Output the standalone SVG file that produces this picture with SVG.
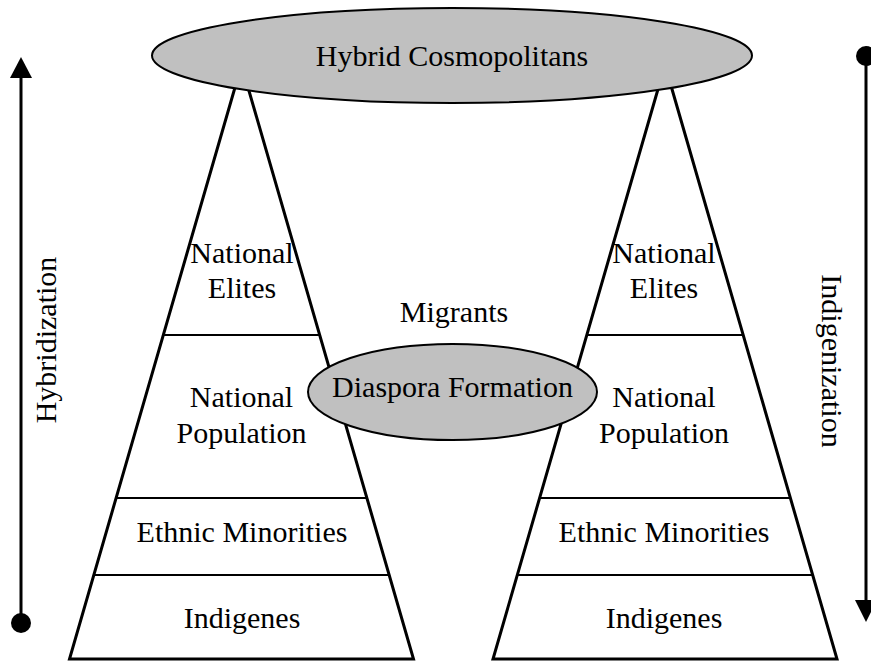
<svg xmlns="http://www.w3.org/2000/svg" width="871" height="662" viewBox="0 0 871 662">
<defs>
<style>
.t{font-family:"Liberation Serif","Times New Roman",serif;font-size:30px;fill:#000;text-anchor:middle}
.tri{fill:#fff;stroke:#000;stroke-width:3;stroke-linejoin:miter}
.div{stroke:#000;stroke-width:2;fill:none}
.ell{fill:#c0c0c0;stroke:#000;stroke-width:2}
.ax{stroke:#000;stroke-width:3;fill:none}
</style>
</defs>
<rect width="871" height="662" fill="#fff"/>
<g id="left-pyramid">
<polygon class="tri" points="241.5,65 69.5,659 413.5,659"/>
<line class="div" x1="163.5" y1="335" x2="319.5" y2="335"/>
<line class="div" x1="116.5" y1="498" x2="366.5" y2="498"/>
<line class="div" x1="94" y1="575" x2="389" y2="575"/>
</g>
<g id="right-pyramid">
<polygon class="tri" points="665,65 493,659 837,659"/>
<line class="div" x1="587" y1="335" x2="743" y2="335"/>
<line class="div" x1="540" y1="498" x2="790" y2="498"/>
<line class="div" x1="517.5" y1="575" x2="812.5" y2="575"/>
</g>
<g id="left-national-elites"><text class="t" x="242" y="263">National</text><text class="t" x="242" y="298">Elites</text></g>
<g id="left-national-population"><text class="t" x="241.5" y="407">National</text><text class="t" x="241.5" y="443">Population</text></g>
<g id="left-ethnic-minorities"><text class="t" x="242" y="542">Ethnic Minorities</text></g>
<g id="left-indigenes"><text class="t" x="242" y="628">Indigenes</text></g>
<g id="right-national-elites"><text class="t" x="664" y="263">National</text><text class="t" x="664" y="298">Elites</text></g>
<g id="right-national-population"><text class="t" x="664" y="407">National</text><text class="t" x="664" y="443">Population</text></g>
<g id="right-ethnic-minorities"><text class="t" x="664" y="542">Ethnic Minorities</text></g>
<g id="right-indigenes"><text class="t" x="664" y="628">Indigenes</text></g>
<g id="hybrid-cosmopolitans">
<ellipse class="ell" cx="452" cy="55.5" rx="300" ry="47.5"/>
<text class="t" x="452" y="66">Hybrid Cosmopolitans</text>
</g>
<g id="migrants"><text class="t" x="454" y="322">Migrants</text></g>
<g id="diaspora-formation">
<ellipse class="ell" cx="452.5" cy="392" rx="144.5" ry="48"/>
<text class="t" x="452.5" y="397">Diaspora Formation</text>
</g>
<g id="connectors">
<line class="ax" x1="21" y1="76" x2="21" y2="623"/>
<polygon points="21,57 10,78 32,78" fill="#000"/>
<circle cx="21" cy="623" r="10" fill="#000"/>
<line class="ax" x1="866" y1="56" x2="866" y2="602"/>
<circle cx="866" cy="56" r="10" fill="#000"/>
<polygon points="866,622 855,600 877,600" fill="#000"/>
</g>
<g id="hybridization-label"><text class="t" transform="translate(56,340) rotate(-90)">Hybridization</text></g>
<g id="indigenization-label"><text class="t" transform="translate(822,361) rotate(90)">Indigenization</text></g>
</svg>
